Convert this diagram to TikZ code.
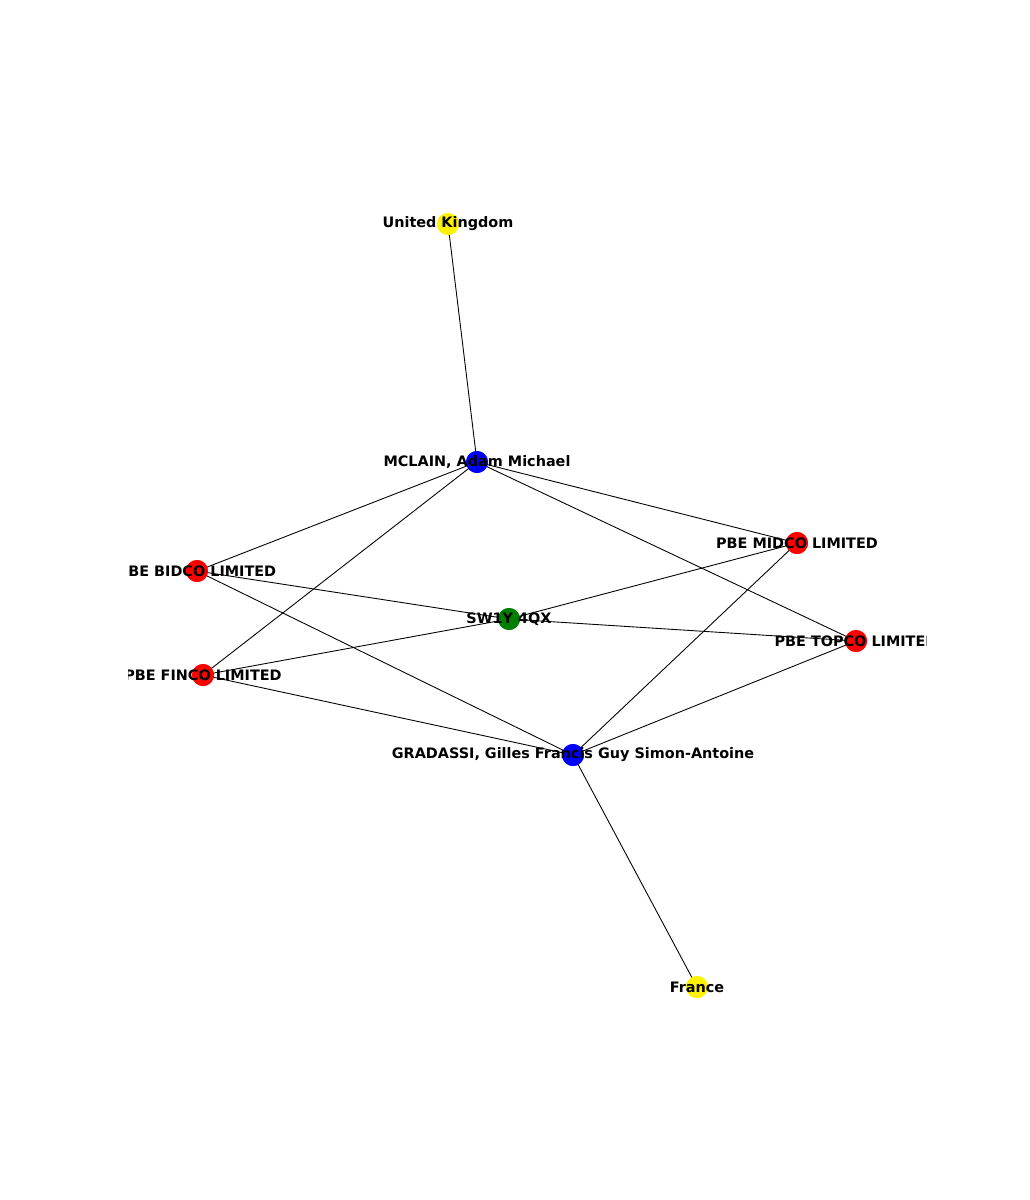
\documentclass[tikz,border=0pt]{standalone}
\usepackage{fontspec}
\setmainfont{DejaVu Sans}
\begin{document}
\begin{tikzpicture}[x=0.02cm,y=-0.02cm,
  dot/.style={circle,inner sep=0pt,minimum size=0.44cm},
  lbl/.style={font=\bfseries\fontsize{8.2}{9}\selectfont,inner sep=0pt},
  edge/.style={draw=black,line width=0.5pt}]
\useasboundingbox (0,0) rectangle (1029,1200);
\begin{scope}
\clip (128,144) rectangle (926,1068);
\node[dot,fill=yellow] (uk) at (448,224) {};
\node[dot,fill=blue] (mc) at (477,462) {};
\node[dot,fill=red] (mid) at (797,543) {};
\node[dot,fill=red] (bid) at (197,571) {};
\node[dot,fill=green!50!black] (sw) at (509,619) {};
\node[dot,fill=red] (top) at (856,641) {};
\node[dot,fill=red] (fin) at (203,675) {};
\node[dot,fill=blue] (gr) at (573,755) {};
\node[dot,fill=yellow] (fr) at (697,987) {};
\begin{scope}[on background layer/.style={}]
\end{scope}
\foreach \a/\b in {uk/mc,mc/bid,mc/fin,mc/mid,mc/top,bid/sw,bid/gr,fin/sw,fin/gr,sw/mid,sw/top,mid/gr,top/gr,gr/fr}
  \draw[edge] (\a.center) -- (\b.center);
\foreach \n/\c in {uk/yellow,mc/blue,mid/red,bid/red,sw/green!50!black,top/red,fin/red,gr/blue,fr/yellow}
  \fill[\c] (\n) circle (0.22cm);
\node[lbl] (luk) at (uk) {United Kingdom};
\node[lbl] (lmc) at (mc) {MCLAIN, Adam Michael};
\node[lbl] (lmid) at (mid) {PBE MIDCO LIMITED};
\node[lbl] (lbid) at (bid) {PBE BIDCO LIMITED};
\node[lbl] (lsw) at (sw) {SW1Y 4QX};
\node[lbl] (ltop) at (top) {PBE TOPCO LIMITED};
\node[lbl] (lfin) at (fin) {PBE FINCO LIMITED};
\node[lbl] (lgr) at (gr) {GRADASSI, Gilles Francis Guy Simon-Antoine};
\node[lbl] (lfr) at (fr) {France};
\end{scope}
\end{tikzpicture}
\end{document}
